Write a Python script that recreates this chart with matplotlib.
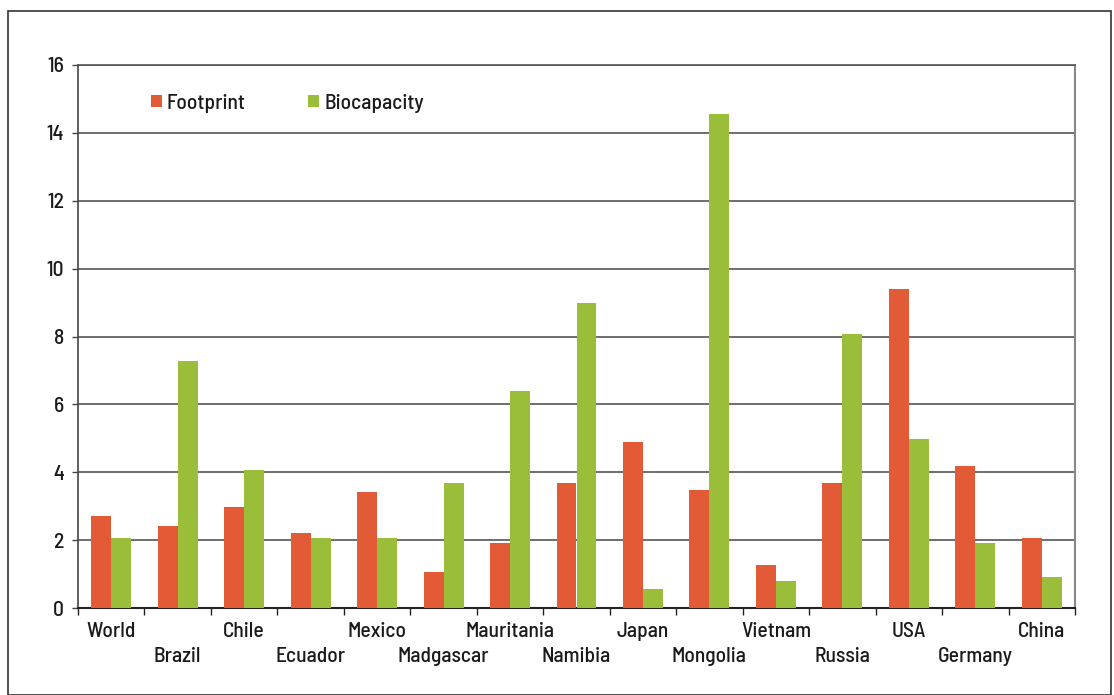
import matplotlib
matplotlib.use("Agg")
import matplotlib.pyplot as plt
from matplotlib.patches import Rectangle
import numpy as np

countries = ["World", "Brazil", "Chile", "Ecuador", "Mexico", "Madgascar", "Mauritania",
             "Namibia", "Japan", "Mongolia", "Vietnam", "Russia", "USA", "Germany", "China"]
footprint = [2.71, 2.42, 2.98, 2.21, 3.42, 1.06, 1.92, 3.68, 4.89, 3.48, 1.27, 3.68, 9.40, 4.18, 2.06]
biocapacity = [2.06, 7.28, 4.07, 2.06, 2.06, 3.68, 6.39, 8.99, 0.56, 14.56, 0.80, 8.07, 4.98, 1.92, 0.91]
yticks = [0, 2, 4, 6, 8, 10, 12, 14, 16]

RED = "#E35B36"
GREEN = "#9ABE3A"
plt.rcParams['font.family'] = ['Barlow Semi Condensed', 'DejaVu Sans']
plt.rcParams['font.weight'] = 'medium'
FS = 15.5
TXT = "#1a1a1a"

W, H = 1114, 695
fig = plt.figure(figsize=(W / 100, H / 100), dpi=100)
ax = fig.add_axes([78 / W, 1 - 608 / H, (1075 - 78) / W, (608 - 65) / H])

x = np.arange(len(countries))
bw = 0.3
ax.bar(x - bw / 2, footprint, bw, color=RED, label="Footprint", zorder=3)
ax.bar(x + bw / 2, biocapacity, bw, color=GREEN, label="Biocapacity", zorder=3)

ax.set_xlim(-0.5, len(countries) - 0.5)
ax.set_ylim(0, 16)
ax.set_yticks(yticks)
ax.set_yticklabels([str(v) for v in yticks], fontsize=FS, color=TXT)
ax.yaxis.grid(True, color="#555555", linewidth=1.2, zorder=0)
ax.tick_params(axis='y', length=4, width=1, color="#444444", pad=6)

ax.set_xticks(np.arange(len(countries) + 1) - 0.5)
ax.set_xticklabels([])
ax.tick_params(axis='x', length=5, width=1, color="#222222", direction='out')
for i, name in enumerate(countries):
    yoff = -0.026 if i % 2 == 0 else -0.071
    ax.text(i, yoff, name, transform=ax.get_xaxis_transform(), ha='center', va='top',
            fontsize=FS, color=TXT)

ax.spines['left'].set_color("#444444")
ax.spines['left'].set_linewidth(1.2)
ax.spines['bottom'].set_color("#222222")
ax.spines['bottom'].set_linewidth(1.5)
ax.spines['right'].set_color("#888888")
ax.spines['right'].set_linewidth(1.5)
ax.spines['top'].set_color("#555555")
ax.spines['top'].set_linewidth(1.2)

leg = ax.legend(loc='center left', bbox_to_anchor=(0.073, 0.930), ncol=2, frameon=False,
                fontsize=FS, handlelength=0.5, handleheight=0.5, handletextpad=0.25,
                columnspacing=2.9, borderaxespad=0, borderpad=0)
for t in leg.get_texts():
    t.set_color(TXT)

fig.patches.append(Rectangle((8 / W, 0.0), (1111 - 8) / W, 1 - 11 / H,
                             transform=fig.transFigure, fill=False,
                             edgecolor="#333333", linewidth=1.2))

fig.savefig("out.png", dpi=100)
